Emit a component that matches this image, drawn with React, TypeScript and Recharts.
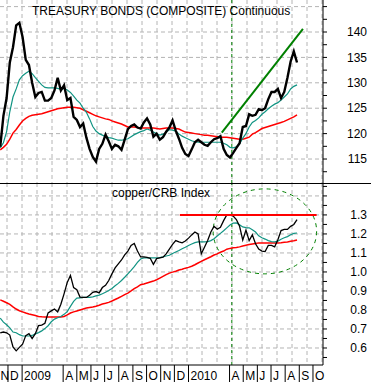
import React from 'react';
import { ComposedChart, Line, XAxis, YAxis, CartesianGrid, ReferenceLine, ReferenceArea } from 'recharts';

const DAY = 86400000;
const START = Date.UTC(2008, 10, 14);
const X_MIN = Date.UTC(2008, 10, 13, 12);
const X_MAX = Date.UTC(2010, 9, 23);

// Treasury bonds (weekly)
const bondClose = [
  117.4, 123.5, 127, 134, 137, 141.3, 141.8, 139, 134.5, 133.5,
  130, 127.2, 128, 128.2, 126.5, 126.5, 127, 128.5, 131, 128.5,
  129.5, 126.6, 127, 123.3, 122.7, 121.3, 122, 119.2, 117, 115.4,
  114.5, 117, 118, 119.8, 118.5, 117, 117.8, 117.5, 116.8, 118.8,
  120.9, 121.5, 121.8, 121.2, 121, 122.2, 123, 121.8, 119.4, 120,
  118.8, 119.3, 120.4, 121.2, 122.6, 120.6, 119, 117.2, 116, 115.6,
  116.9, 118.3, 118.8, 118.3, 117.8, 117.6, 118.3, 118.9, 119.1, 119.5,
  117, 115.8, 115.3, 116.2, 117.2, 118.1, 121.3, 121.5, 123.8, 123.5,
  123.7, 124.8, 124.6, 125, 126.8, 128.2, 128.2, 128.8, 127, 128.2,
  131, 134.2, 136.2, 134,
];
const bondMaShort = [
  117.2, 118.2, 120.4, 124.3, 127.2, 128.8, 130.6, 131.4, 131.9, 132.3,
  131.8, 131, 130.3, 129.6, 129.1, 129, 129, 129, 128.9, 128.7,
  128.9, 128.6, 128.1, 127.4, 126.6, 126, 125, 124.2, 122.9, 121.4,
  120.5, 120, 119.7, 119.4, 119.2, 119.1, 118.9, 118.7, 118.7, 118.8,
  119, 119.4, 119.8, 120.1, 120.4, 120.6, 120.9, 120.7, 120.3, 120,
  119.7, 119.9, 120.2, 120.8, 120.7, 120.5, 119.9, 119.5, 119.2, 118.9,
  118.6, 118.4, 118.3, 118.3, 118.3, 118.3, 118.3, 118.3, 118.3, 118.3,
  118.1, 117.8, 117.3, 117.2, 117.4, 118, 119.1, 120, 121.3, 122.2,
  122.6, 123.1, 123.8, 124.3, 124.9, 125.4, 125.8, 126.1, 126.6, 127.2,
  127.8, 128.8, 129.3, 129.6,
];
const bondMaLong = [
  116.8, 117.3, 117.9, 118.9, 120.1, 120.8, 121.7, 122.5, 123, 123.4,
  123.6, 123.7, 123.8, 123.9, 124.1, 124.3, 124.5, 124.7, 124.9, 125,
  125.1, 125.2, 125.2, 125.2, 125.1, 125, 124.7, 124.4, 124.1, 123.8,
  123.5, 123.3, 123.1, 122.9, 122.8, 122.5, 122.3, 122.1, 121.9, 121.6,
  121.3, 121.3, 121.3, 121.2, 121.1, 121.1, 121.1, 121.1, 121.1, 121,
  120.9, 121, 121.1, 121.1, 121.1, 121, 120.9, 120.6, 120.3, 120.2,
  120.1, 120, 119.9, 119.8, 119.7, 119.7, 119.6, 119.5, 119.4, 119.3,
  119.3, 119.3, 119.2, 119.1, 119, 118.9, 118.9, 119.1, 119.3, 119.9,
  120.2, 120.6, 121, 121.2, 121.4, 121.6, 121.8, 122, 122.2, 122.4,
  122.7, 123, 123.3, 123.7,
];

// copper / CRB index (weekly)
const copperClose = [
  0.679, 0.684, 0.68, 0.668, 0.605, 0.585, 0.603, 0.62, 0.665, 0.675,
  0.65, 0.675, 0.718, 0.72, 0.73, 0.785, 0.795, 0.805, 0.79, 0.83,
  0.885, 0.945, 0.982, 0.918, 0.907, 0.868, 0.866, 0.866, 0.877, 0.893,
  0.897, 0.89, 0.918, 0.93, 0.955, 0.99, 1.021, 1.043, 1.063, 1.09,
  1.11, 1.14, 1.15, 1.11, 1.079, 1.079, 1.077, 1.072, 1.04, 1.07,
  1.074, 1.078, 1.095, 1.12, 1.145, 1.165, 1.158, 1.153, 1.163, 1.178,
  1.195, 1.21, 1.2, 1.095, 1.13, 1.165, 1.21, 1.24, 1.225, 1.235,
  1.27, 1.3, 1.3, 1.294, 1.276, 1.24, 1.168, 1.22, 1.165, 1.195,
  1.148, 1.12, 1.11, 1.107, 1.14, 1.14, 1.132, 1.17, 1.218, 1.224,
  1.224, 1.24, 1.25, 1.275,
];
const copperMaShort = [
  0.757, 0.736, 0.722, 0.706, 0.684, 0.68, 0.67, 0.664, 0.663, 0.663,
  0.666, 0.674, 0.681, 0.69, 0.702, 0.717, 0.738, 0.752, 0.759, 0.766,
  0.777, 0.791, 0.819, 0.845, 0.862, 0.864, 0.866, 0.866, 0.866, 0.869,
  0.874, 0.878, 0.885, 0.893, 0.902, 0.913, 0.927, 0.94, 0.955, 0.972,
  0.99, 1.008, 1.028, 1.05, 1.068, 1.074, 1.074, 1.074, 1.074, 1.074,
  1.075, 1.079, 1.084, 1.088, 1.097, 1.105, 1.113, 1.122, 1.13, 1.139,
  1.147, 1.154, 1.158, 1.158, 1.158, 1.159, 1.165, 1.175, 1.189, 1.203,
  1.217, 1.232, 1.247, 1.257, 1.258, 1.248, 1.237, 1.233, 1.232, 1.222,
  1.21, 1.19, 1.18, 1.173, 1.165, 1.16, 1.158, 1.162, 1.172, 1.18,
  1.186, 1.196, 1.203, 1.205,
];
const copperMaLong = [
  0.853, 0.846, 0.838, 0.829, 0.816, 0.805, 0.796, 0.79, 0.784, 0.779,
  0.775, 0.771, 0.766, 0.764, 0.763, 0.763, 0.763, 0.763, 0.763, 0.763,
  0.766, 0.774, 0.784, 0.79, 0.795, 0.8, 0.805, 0.81, 0.813, 0.816,
  0.82, 0.825, 0.831, 0.835, 0.84, 0.847, 0.855, 0.863, 0.872, 0.881,
  0.889, 0.9, 0.912, 0.922, 0.933, 0.937, 0.942, 0.947, 0.952, 0.959,
  0.968, 0.977, 0.986, 0.994, 0.999, 1.004, 1.01, 1.014, 1.02, 1.024,
  1.03, 1.038, 1.047, 1.056, 1.064, 1.072, 1.08, 1.089, 1.095, 1.104,
  1.11, 1.12, 1.124, 1.127, 1.129, 1.132, 1.137, 1.141, 1.144, 1.147,
  1.15, 1.153, 1.153, 1.153, 1.153, 1.153, 1.153, 1.153, 1.154, 1.156,
  1.158, 1.161, 1.164, 1.168,
];

const weekDates = bondClose.map((_, i) => START + i * 7 * DAY);

const monthTickDates = [
  X_MIN,
  Date.UTC(2008, 11, 1), Date.UTC(2009, 0, 1), Date.UTC(2009, 3, 1), Date.UTC(2009, 4, 1),
  Date.UTC(2009, 5, 1), Date.UTC(2009, 6, 1), Date.UTC(2009, 7, 1), Date.UTC(2009, 8, 1),
  Date.UTC(2009, 9, 1), Date.UTC(2009, 10, 1), Date.UTC(2009, 11, 1), Date.UTC(2010, 0, 1),
  Date.UTC(2010, 3, 1), Date.UTC(2010, 4, 1), Date.UTC(2010, 5, 1), Date.UTC(2010, 6, 1),
  Date.UTC(2010, 7, 1), Date.UTC(2010, 8, 1), Date.UTC(2010, 9, 1),
];
const monthTickLabels = [
  'N', 'D', '2009', 'A', 'M', 'J', 'J', 'A', 'S', 'O', 'N', 'D', '2010', 'A', 'M', 'J', 'J', 'A', 'S', 'O',
];

const bondTicks = [112.5, 115, 117.5, 120, 122.5, 125, 127.5, 130, 132.5, 135, 137.5, 140, 142.5, 145];
const bondLabels = [115, 120, 125, 130, 135, 140];
const bondGrid = [115, 120, 125, 130, 135, 140, 145];
const copperTicks = [0.55, 0.6, 0.65, 0.7, 0.75, 0.8, 0.85, 0.9, 0.95, 1.0, 1.05, 1.1, 1.15, 1.2, 1.25, 1.3, 1.35, 1.4, 1.45];
const copperLabels = [0.6, 0.7, 0.8, 0.9, 1.0, 1.1, 1.2, 1.3];
const copperGrid = [0.6, 0.7, 0.8, 0.9, 1.0, 1.1, 1.2, 1.3, 1.4];

const bondData = weekDates.map((t, i) => ({ t, close: bondClose[i], ma1: bondMaShort[i], ma2: bondMaLong[i] }));
const copperData = weekDates.map((t, i) => ({ t, close: copperClose[i], ma1: copperMaShort[i], ma2: copperMaLong[i] }));

const SIGNAL_DATE = Date.UTC(2010, 3, 6);
const trendLine = [
  { x: Date.UTC(2010, 2, 15), y: 120.2 },
  { x: Date.UTC(2010, 8, 9), y: 140.6 },
];
const resistance = { from: Date.UTC(2009, 11, 13), to: Date.UTC(2010, 9, 9), level: 1.3 };
const circle = { x1: Date.UTC(2010, 1, 24), x2: Date.UTC(2010, 9, 9), y1: 0.99, y2: 1.437 };

const FONT = "Arial, 'Liberation Sans', sans-serif";
const TEAL = '#119483';
const RED = '#ff0000';
const GREEN = '#008000';
const GRID = '#b4b4b4';

const W = 371;
const PLOT_W = 323;
const gridXs = Array.from({ length: 22 }, (_, k) => 7 + 15 * k);

const makeYTick = (labels: number[], fmt: (v: number) => string) => (props: any) => {
  const { x, y, payload } = props;
  const v = payload.value;
  if (!labels.some((m) => Math.abs(m - v) < 1e-6)) return <g />;
  return (
    <text x={x + 38} y={y} dy="0.35em" textAnchor="end" fontSize={12} fontFamily={FONT} fill="#000">
      {fmt(v)}
    </text>
  );
};

const MonthTick = (props: any) => {
  const { x, y, payload } = props;
  const idx = monthTickDates.indexOf(payload.value);
  const label = idx >= 0 ? monthTickLabels[idx] : '';
  const first = payload.value === X_MIN;
  return (
    <g>
      {!first && <line x1={x} y1={y} x2={x} y2={y + 17} stroke="#000" strokeWidth={1} />}
      <text x={first ? x + 0.5 : x + 2} y={y + 15} fontSize={12} fontFamily={FONT} fill="#000">
        {label}
      </text>
    </g>
  );
};

const BondTick = makeYTick(bondLabels, (v) => String(v));
const CopperTick = makeYTick(copperLabels, (v) => v.toFixed(1));

export default function App() {
  return (
    <div style={{ position: 'absolute', left: 0, top: 0, width: W, height: 382, background: '#fff', overflow: 'hidden' }}>
      <div style={{ position: 'absolute', left: 0, top: 0 }}>
        <ComposedChart width={W} height={183} data={bondData} margin={{ top: 0, right: 0, bottom: 0, left: 0 }}>
          <CartesianGrid stroke={GRID} strokeDasharray="4 3" horizontalValues={bondGrid} verticalPoints={gridXs} />
          <XAxis dataKey="t" type="number" domain={[X_MIN, X_MAX]} hide allowDataOverflow />
          <YAxis
            orientation="right"
            width={W - PLOT_W}
            type="number"
            domain={[110.28, 146.3]}
            ticks={bondTicks}
            interval={0}
            allowDataOverflow
            tickSize={4}
            axisLine={{ stroke: '#000' }}
            tickLine={{ stroke: '#000' }}
            tick={BondTick}
          />
          <ReferenceLine x={SIGNAL_DATE} stroke={GREEN} strokeDasharray="3 3" />
          <Line dataKey="ma2" stroke={RED} strokeWidth={1.5} dot={false} activeDot={false} isAnimationActive={false} />
          <Line dataKey="ma1" stroke={TEAL} strokeWidth={1.2} dot={false} activeDot={false} isAnimationActive={false} />
          <Line dataKey="close" stroke="#000" strokeWidth={2.4} strokeLinejoin="miter" dot={false} activeDot={false} isAnimationActive={false} />
          <ReferenceLine segment={trendLine} stroke={GREEN} strokeWidth={2} ifOverflow="visible" />
        </ComposedChart>
      </div>
      <div style={{ position: 'absolute', left: 0, top: 183 }}>
        <ComposedChart width={W} height={199} data={copperData} margin={{ top: 0, right: 0, bottom: 0, left: 0 }}>
          <CartesianGrid stroke={GRID} strokeDasharray="4 3" horizontalValues={copperGrid} verticalPoints={gridXs} />
          <XAxis
            dataKey="t"
            type="number"
            domain={[X_MIN, X_MAX]}
            allowDataOverflow
            ticks={monthTickDates}
            interval={0}
            height={17}
            tickSize={0}
            tickMargin={0}
            tickLine={false}
            axisLine={{ stroke: '#000' }}
            tick={MonthTick}
          />
          <YAxis
            orientation="right"
            width={W - PLOT_W}
            type="number"
            domain={[0.5105, 1.468]}
            ticks={copperTicks}
            interval={0}
            allowDataOverflow
            tickSize={4}
            axisLine={{ stroke: '#000' }}
            tickLine={{ stroke: '#000' }}
            tick={CopperTick}
          />
          <ReferenceLine x={SIGNAL_DATE} stroke={GREEN} strokeDasharray="3 3" />
          <ReferenceArea
            x1={circle.x1}
            x2={circle.x2}
            y1={circle.y1}
            y2={circle.y2}
            ifOverflow="visible"
            shape={(p: any) => (
              <ellipse
                cx={p.x + p.width / 2}
                cy={p.y + p.height / 2}
                rx={Math.abs(p.width) / 2}
                ry={Math.abs(p.height) / 2}
                fill="none"
                stroke={GREEN}
                strokeDasharray="4 4"
              />
            )}
          />
          <Line dataKey="ma2" stroke={RED} strokeWidth={1.5} dot={false} activeDot={false} isAnimationActive={false} />
          <Line dataKey="ma1" stroke={TEAL} strokeWidth={1.2} dot={false} activeDot={false} isAnimationActive={false} />
          <Line dataKey="close" stroke="#000" strokeWidth={1.3} dot={false} activeDot={false} isAnimationActive={false} />
          <ReferenceLine
            segment={[{ x: resistance.from, y: resistance.level }, { x: resistance.to, y: resistance.level }]}
            stroke={RED}
            strokeWidth={2}
            ifOverflow="visible"
          />
        </ComposedChart>
      </div>
      <svg width={W} height={382} style={{ position: 'absolute', left: 0, top: 0, pointerEvents: 'none' }}>
        <line x1={0} y1={183.5} x2={W} y2={183.5} stroke="#000" strokeWidth={1} />
        <text x={32} y={15} fontSize={12} fontFamily={FONT} fill="#000">TREASURY BONDS (COMPOSITE) Continuous</text>
        <text x={112} y={197} fontSize={12} fontFamily={FONT} fill="#000">copper/CRB Index</text>
      </svg>
    </div>
  );
}
